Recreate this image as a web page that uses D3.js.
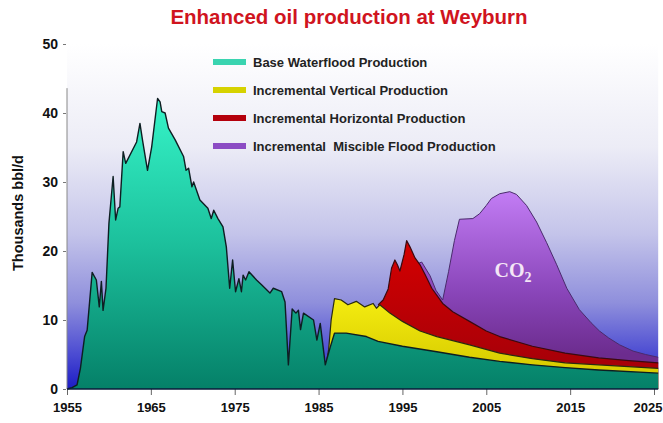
<!DOCTYPE html>
<html>
<head>
<meta charset="utf-8">
<script src="https://cdn.jsdelivr.net/npm/d3@7"></script>
<style>
  body { margin: 0; background: #fff; }
  svg text { font-family: "Liberation Sans", Arial, sans-serif; }
</style>
</head>
<body>
<div id="chart"></div>
<script>
// top line of each layer, [year, thousand bbl/d]
let baseWaterflood = [
    [1955, 0], [1955.6, 0.2], [1956.2, 0.6], [1956.6, 3], [1957.1, 7.6], [1957.4, 8.5], [1958.0, 16.9],
    [1958.5, 15.8], [1958.85, 11.9], [1959.1, 15.6], [1959.3, 11.4], [1959.65, 14.6], [1960.0, 24],
    [1960.5, 30.8], [1960.8, 24.5], [1961.1, 26.2], [1961.3, 26.4], [1961.7, 34.4], [1962.0, 32.7],
    [1963.3, 35.8], [1963.7, 38.5], [1964.0, 36.1], [1964.6, 31.7], [1965.1, 35.1], [1965.8, 42.1],
    [1966.1, 41.6], [1966.3, 40.2], [1966.7, 40.0], [1967.1, 37.8], [1967.9, 36.1], [1968.9, 33.7],
    [1969.2, 31.7], [1969.5, 32.0], [1969.9, 29.3], [1970.1, 30.0], [1970.85, 27.4], [1971.8, 26.2],
    [1972.2, 24.7], [1972.5, 25.9], [1973.0, 24.7], [1973.6, 23.5], [1974.0, 20.6], [1974.4, 14.6],
    [1974.75, 18.7], [1975.1, 14.1], [1975.5, 16.0], [1975.8, 14.1], [1976.0, 16.5], [1976.3, 15.8],
    [1976.7, 17.0], [1977.6, 15.8], [1978.2, 15.1], [1979.2, 13.9], [1979.6, 14.6], [1980.6, 14.1],
    [1981.0, 12.6], [1981.4, 3.5], [1981.85, 11.6], [1982.3, 11.0], [1982.6, 11.4], [1982.85, 8.6],
    [1983.2, 11.0], [1984.4, 10.0], [1984.8, 7.1], [1985.2, 9.5], [1985.8, 3.5], [1986.4, 6.1],
    [1986.9, 8.1], [1988.3, 8.1], [1990.7, 7.6], [1992.1, 6.9], [1995.0, 6.2], [1999.1, 5.4],
    [2003.0, 4.6], [2006.6, 4.0], [2010.5, 3.5], [2014.4, 3.1], [2018.4, 2.75], [2025.5, 2.3]
];
let verticalTop = [
    [1985.9, 3.6], [1986.2, 5.7], [1986.5, 10], [1986.9, 13.1], [1987.7, 12.9], [1988.5, 12.2],
    [1989.5, 12.7], [1990.5, 11.9], [1991.5, 12.4], [1991.9, 11.7], [1992.3, 12.2], [1993.5, 11.0],
    [1995.0, 9.8], [1997.1, 8.4], [1999.1, 7.6], [2003.0, 6.4], [2006.6, 5.2], [2010.5, 4.4],
    [2014.4, 3.8], [2018.4, 3.5], [2025.5, 3.0]
];
let horizontalTop = [
    [1992.1, 12.2], [1992.7, 12.9], [1993.3, 14.5], [1993.7, 17.5], [1994.1, 18.7], [1994.4, 18.0],
    [1994.7, 17.1], [1995.2, 19.5], [1995.5, 21.5], [1995.9, 20.6], [1996.5, 19.0], [1997.1, 18.0],
    [1997.7, 16.6], [1998.5, 14.6], [1999.8, 12.4], [2001.0, 11.2], [2003.0, 9.8], [2005.0, 8.4],
    [2006.6, 7.6], [2010.5, 6.2], [2014.4, 5.2], [2018.4, 4.5], [2022, 4.1], [2025.5, 3.8]
];
let miscibleTop = [
    [1996.9, 18.2], [1997.3, 18.4], [1998.3, 16.4], [1999.0, 14.3], [1999.8, 12.9], [2000.5, 17],
    [2001.2, 21.5], [2001.8, 24.6], [2003.4, 24.7], [2004.2, 25.4], [2005.0, 26.6], [2005.6, 27.6],
    [2006.6, 28.3], [2007.8, 28.6], [2008.6, 28.2], [2009.8, 26.6], [2011.0, 24.2], [2012.2, 21.2],
    [2013.4, 18.0], [2014.6, 14.6], [2016.1, 11.5], [2017.5, 9.6], [2018.5, 8.4], [2019.6, 7.4],
    [2020.9, 6.4], [2022.5, 5.5], [2024, 5.0], [2025.5, 4.6]
];
let legendLabels = [
    "Base Waterflood Production",
    "Incremental Vertical Production",
    "Incremental Horizontal Production",
    "Incremental  Miscible Flood Production"
];
let yTicks = [0, 10, 20, 30, 40, 50];
let xTicks = [1955, 1965, 1975, 1985, 1995, 2005, 2015, 2025];

let W = 663, H = 423;
let margins = { top: 44, right: 5, bottom: 34, left: 67 };
let width = 587, height = H - margins.top - margins.bottom;

let svg = d3.select("#chart").append("svg")
    .attr("width", W)
    .attr("height", H);

let defs = svg.append("defs");
function vGrad(id, y1, y2, stops) {
    let g = defs.append("linearGradient")
        .attr("id", id)
        .attr("gradientUnits", "userSpaceOnUse")
        .attr("x1", 0).attr("x2", 0)
        .attr("y1", y1).attr("y2", y2);
    stops.forEach(s => g.append("stop").attr("offset", s[0]).attr("stop-color", s[1]));
}

let x = d3.scaleLinear().domain([1955, 2025]).range([0, width]);
let y = d3.scaleLinear().domain([0, 50]).range([height, 0]);

vGrad("bg", y(50), y(0), [[0, "#ffffff"], [0.3, "#ececf6"], [0.55, "#c4c4ea"], [0.75, "#8f8fdc"], [0.9, "#4b4bd2"], [1, "#1c1cc6"]]);
vGrad("gBase", y(42), y(0), [[0, "#36f4c8"], [0.5, "#1cc09c"], [1, "#058068"]]);
vGrad("gVert", y(13), y(3), [[0, "#f4ec10"], [1, "#d8cc00"]]);
vGrad("gHor", y(21), y(4), [[0, "#d40000"], [1, "#a80008"]]);
vGrad("gMis", y(28), y(5), [[0, "#c07af2"], [0.6, "#8a46ba"], [1, "#6c2c8e"]]);

svg.append("text")
    .attr("x", 349).attr("y", 24)
    .attr("text-anchor", "middle")
    .style("font-size", "20.5px").style("font-weight", "bold")
    .style("fill", "#d0141e")
    .text("Enhanced oil production at Weyburn");

let g = svg.append("g")
    .attr("transform", "translate(" + margins.left + "," + margins.top + ")");

g.append("rect")
    .attr("x", 0).attr("y", 0)
    .attr("width", x(2025.5)).attr("height", height)
    .style("fill", "url(#bg)");

let area = d3.area()
    .x(d => x(d[0]))
    .y0(y(0))
    .y1(d => y(d[1]));
let line = d3.line()
    .x(d => x(d[0]))
    .y(d => y(d[1]));

let layers = [
    { data: miscibleTop, fill: "url(#gMis)", stroke: "#4a2a6c", sw: 1 },
    { data: horizontalTop, fill: "url(#gHor)", stroke: "#3a0a10", sw: 1.2 },
    { data: verticalTop, fill: "url(#gVert)", stroke: "#2a2a10", sw: 1.2 },
    { data: baseWaterflood, fill: "url(#gBase)", stroke: "#0e1e22", sw: 1.4 }
];
layers.forEach(function (l) {
    g.append("path").attr("d", area(l.data)).style("fill", l.fill);
    g.append("path").attr("d", line(l.data))
        .style("fill", "none").style("stroke", l.stroke)
        .style("stroke-width", l.sw).style("stroke-linejoin", "round");
});

// CO2 label
let co2 = g.append("text")
    .attr("x", x(2008.2)).attr("y", y(16.2))
    .attr("text-anchor", "middle")
    .style("font-family", "'Liberation Serif', 'Times New Roman', serif")
    .style("font-weight", "bold").style("font-size", "20px")
    .style("fill", "#f4e6f6");
co2.append("tspan").text("CO");
co2.append("tspan").attr("dy", 5).style("font-size", "14px").text("2");

// axes
let yAxis = g.append("g")
    .call(d3.axisLeft(y).tickValues(yTicks).tickSize(4).tickPadding(5));
yAxis.select(".domain").remove();
yAxis.selectAll(".tick line").attr("x1", -1).attr("x2", -4).style("stroke", "#777");
yAxis.selectAll("text")
    .style("font-size", "14px").style("font-weight", "bold").style("fill", "#111");

g.append("line")
    .attr("x1", 0).attr("x2", 0)
    .attr("y1", y(43.6)).attr("y2", y(0))
    .style("stroke", "#888").style("stroke-width", 1);

let xAxis = g.append("g")
    .attr("transform", "translate(0," + height + ")")
    .call(d3.axisBottom(x).tickValues(xTicks).tickFormat(d3.format("d")).tickSize(6).tickPadding(8));
xAxis.select(".domain").remove();
xAxis.selectAll(".tick line").style("stroke", "#666");
xAxis.selectAll("text")
    .style("font-size", "13px").style("font-weight", "bold").style("fill", "#111");
// last label sits against the right edge of the picture
xAxis.selectAll(".tick").filter(d => d === 2025).select("text")
    .attr("text-anchor", "end").attr("x", 8);

g.append("line")
    .attr("x1", 0).attr("x2", x(2025.5))
    .attr("y1", height).attr("y2", height)
    .style("stroke", "#0a1a3a").style("stroke-width", 1.5);

svg.append("text")
    .attr("transform", "translate(23," + (margins.top + y(25.5)) + ") rotate(-90)")
    .attr("text-anchor", "middle")
    .style("font-size", "14.5px").style("font-weight", "bold").style("fill", "#111")
    .text("Thousands bbl/d");

// legend
let swatchFills = ["#3ad4b0", "#d6d200", "#b4000c", "#8c4cc4"];
let legend = svg.append("g").attr("transform", "translate(213,62)");
let rows = legend.selectAll("g").data(legendLabels).enter().append("g")
    .attr("transform", (d, i) => "translate(0," + i * 28 + ")");
rows.append("rect")
    .attr("x", 0).attr("y", -3).attr("width", 33).attr("height", 6)
    .style("fill", (d, i) => swatchFills[i]);
rows.append("text")
    .attr("x", 40).attr("y", 4.5)
    .style("font-size", "13px").style("font-weight", "bold").style("fill", "#222")
    .style("white-space", "pre")
    .text(d => d);
</script>
</body>
</html>
